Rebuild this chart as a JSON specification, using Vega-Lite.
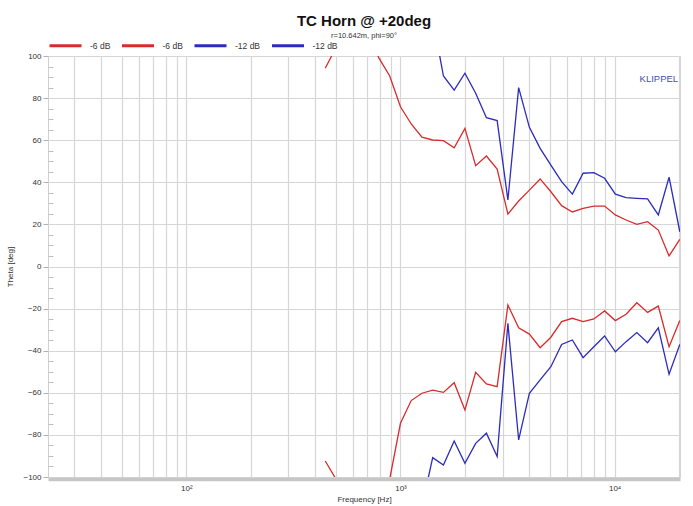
{
  "$schema": "https://vega.github.io/schema/vega-lite/v6.json",
  "width": 632,
  "height": 421,
  "autosize": {"type": "none"},
  "padding": {"left": 48, "top": 56, "right": 13, "bottom": 29},
  "background": "white",
  "config": {
    "font": "Liberation Sans",
    "view": {"stroke": "#d4d4d4"}
  },
  "title": {
    "text": "TC Horn @ +20deg",
    "subtitle": "r=10.642m, phi=90°",
    "anchor": "middle",
    "frame": "group",
    "fontSize": 15,
    "fontWeight": "bold",
    "color": "#111111",
    "subtitleFontSize": 7.5,
    "subtitleColor": "#333333",
    "subtitlePadding": 3,
    "offset": -11
  },
  "datasets": {
    "curves": [
      {"f": 445.4, "s": "u6", "t": 94.2},
      {"f": 500.0, "s": "u6", "t": 104},
      {"f": 561.2, "s": "u6", "t": 118},
      {"f": 630.0, "s": "u6", "t": 118},
      {"f": 707.1, "s": "u6", "t": 110},
      {"f": 793.7, "s": "u6", "t": 99},
      {"f": 890.9, "s": "u6", "t": 90.5},
      {"f": 1000, "s": "u6", "t": 75.9},
      {"f": 1122.5, "s": "u6", "t": 67.7},
      {"f": 1259.9, "s": "u6", "t": 61.4},
      {"f": 1414.2, "s": "u6", "t": 60.1},
      {"f": 1587.4, "s": "u6", "t": 59.8},
      {"f": 1781.8, "s": "u6", "t": 56.4},
      {"f": 2000, "s": "u6", "t": 65.6},
      {"f": 2244.9, "s": "u6", "t": 47.9},
      {"f": 2519.8, "s": "u6", "t": 52.5},
      {"f": 2828.4, "s": "u6", "t": 46.3},
      {"f": 3174.8, "s": "u6", "t": 24.9},
      {"f": 3563.6, "s": "u6", "t": 31.1},
      {"f": 4000, "s": "u6", "t": 36.3},
      {"f": 4489.8, "s": "u6", "t": 41.6},
      {"f": 5039.7, "s": "u6", "t": 35.5},
      {"f": 5656.9, "s": "u6", "t": 28.9},
      {"f": 6349.6, "s": "u6", "t": 25.9},
      {"f": 7127.2, "s": "u6", "t": 27.6},
      {"f": 8000, "s": "u6", "t": 28.7},
      {"f": 8979.7, "s": "u6", "t": 28.7},
      {"f": 10079.4, "s": "u6", "t": 24.5},
      {"f": 11313.7, "s": "u6", "t": 22.1},
      {"f": 12699.2, "s": "u6", "t": 20.0},
      {"f": 14254.4, "s": "u6", "t": 21.3},
      {"f": 16000, "s": "u6", "t": 17.3},
      {"f": 17959.4, "s": "u6", "t": 5.0},
      {"f": 20158.7, "s": "u6", "t": 12.9},

      {"f": 445.4, "s": "l6", "t": -92.4},
      {"f": 500.0, "s": "l6", "t": -101},
      {"f": 561.2, "s": "l6", "t": -115},
      {"f": 630.0, "s": "l6", "t": -120},
      {"f": 707.1, "s": "l6", "t": -118},
      {"f": 793.7, "s": "l6", "t": -110},
      {"f": 890.9, "s": "l6", "t": -101},
      {"f": 1000, "s": "l6", "t": -74.5},
      {"f": 1122.5, "s": "l6", "t": -63.7},
      {"f": 1259.9, "s": "l6", "t": -60.2},
      {"f": 1414.2, "s": "l6", "t": -58.7},
      {"f": 1587.4, "s": "l6", "t": -59.8},
      {"f": 1781.8, "s": "l6", "t": -55.2},
      {"f": 2000, "s": "l6", "t": -68.2},
      {"f": 2244.9, "s": "l6", "t": -50.3},
      {"f": 2519.8, "s": "l6", "t": -55.8},
      {"f": 2828.4, "s": "l6", "t": -57.1},
      {"f": 3174.8, "s": "l6", "t": -18.3},
      {"f": 3563.6, "s": "l6", "t": -29.1},
      {"f": 4000, "s": "l6", "t": -32.1},
      {"f": 4489.8, "s": "l6", "t": -38.6},
      {"f": 5039.7, "s": "l6", "t": -33.6},
      {"f": 5656.9, "s": "l6", "t": -26.2},
      {"f": 6349.6, "s": "l6", "t": -24.6},
      {"f": 7127.2, "s": "l6", "t": -26.2},
      {"f": 8000, "s": "l6", "t": -24.9},
      {"f": 8979.7, "s": "l6", "t": -21.1},
      {"f": 10079.4, "s": "l6", "t": -25.7},
      {"f": 11313.7, "s": "l6", "t": -22.7},
      {"f": 12699.2, "s": "l6", "t": -17.2},
      {"f": 14254.4, "s": "l6", "t": -21.8},
      {"f": 16000, "s": "l6", "t": -18.8},
      {"f": 17959.4, "s": "l6", "t": -38.1},
      {"f": 20158.7, "s": "l6", "t": -25.7},

      {"f": 1414.2, "s": "u12", "t": 118},
      {"f": 1587.4, "s": "u12", "t": 90.5},
      {"f": 1781.8, "s": "u12", "t": 83.8},
      {"f": 2000, "s": "u12", "t": 91.8},
      {"f": 2244.9, "s": "u12", "t": 82.3},
      {"f": 2519.8, "s": "u12", "t": 70.7},
      {"f": 2828.4, "s": "u12", "t": 69.3},
      {"f": 3174.8, "s": "u12", "t": 31.6},
      {"f": 3563.6, "s": "u12", "t": 85.0},
      {"f": 4000, "s": "u12", "t": 66.1},
      {"f": 4489.8, "s": "u12", "t": 56.1},
      {"f": 5039.7, "s": "u12", "t": 48.2},
      {"f": 5656.9, "s": "u12", "t": 40.3},
      {"f": 6349.6, "s": "u12", "t": 34.4},
      {"f": 7127.2, "s": "u12", "t": 44.3},
      {"f": 8000, "s": "u12", "t": 44.6},
      {"f": 8979.7, "s": "u12", "t": 41.9},
      {"f": 10079.4, "s": "u12", "t": 34.4},
      {"f": 11313.7, "s": "u12", "t": 32.7},
      {"f": 12699.2, "s": "u12", "t": 32.4},
      {"f": 14254.4, "s": "u12", "t": 32.1},
      {"f": 16000, "s": "u12", "t": 24.5},
      {"f": 17959.4, "s": "u12", "t": 42.4},
      {"f": 20158.7, "s": "u12", "t": 16.5},

      {"f": 1259.9, "s": "l12", "t": -114},
      {"f": 1414.2, "s": "l12", "t": -90.8},
      {"f": 1587.4, "s": "l12", "t": -94.3},
      {"f": 1781.8, "s": "l12", "t": -82.9},
      {"f": 2000, "s": "l12", "t": -93.5},
      {"f": 2244.9, "s": "l12", "t": -84.0},
      {"f": 2519.8, "s": "l12", "t": -79.2},
      {"f": 2828.4, "s": "l12", "t": -90.3},
      {"f": 3174.8, "s": "l12", "t": -27.0},
      {"f": 3563.6, "s": "l12", "t": -82.4},
      {"f": 4000, "s": "l12", "t": -60.2},
      {"f": 4489.8, "s": "l12", "t": -53.9},
      {"f": 5039.7, "s": "l12", "t": -47.6},
      {"f": 5656.9, "s": "l12", "t": -37.0},
      {"f": 6349.6, "s": "l12", "t": -34.9},
      {"f": 7127.2, "s": "l12", "t": -43.3},
      {"f": 8000, "s": "l12", "t": -38.1},
      {"f": 8979.7, "s": "l12", "t": -33.0},
      {"f": 10079.4, "s": "l12", "t": -40.5},
      {"f": 11313.7, "s": "l12", "t": -35.7},
      {"f": 12699.2, "s": "l12", "t": -31.4},
      {"f": 14254.4, "s": "l12", "t": -36.2},
      {"f": 16000, "s": "l12", "t": -29.1},
      {"f": 17959.4, "s": "l12", "t": -51.2},
      {"f": 20158.7, "s": "l12", "t": -37.0}
    ],
    "note": [{"label": "KLIPPEL"}]
  },
  "resolve": {"axis": {"y": "independent"}},
  "layer": [
    {
      "data": {"name": "curves"},
      "mark": {"type": "line", "clip": true, "strokeWidth": 1.3},
      "encoding": {
        "x": {
          "field": "f",
          "type": "quantitative",
          "scale": {"type": "log", "domain": [22.6, 20200], "nice": false},
          "axis": {
            "title": "Frequency [Hz]",
            "values": [30, 40, 50, 60, 70, 80, 90, 100, 200, 300, 400, 500, 600, 700, 800, 900, 1000, 2000, 3000, 4000, 5000, 6000, 7000, 8000, 9000, 10000, 20000],
            "labelExpr": "datum.value == 100 ? '10²' : datum.value == 1000 ? '10³' : datum.value == 10000 ? '10⁴' : ''",
            "labelOverlap": false,
            "labelFlush": false,
            "ticks": false,
            "grid": true,
            "gridColor": "#d6d6d6",
            "gridWidth": 1.2,
            "domainColor": "#c6c6c6",
            "domainWidth": 3.5,
            "offset": 2,
            "labelFontSize": 8,
            "labelColor": "#333333",
            "labelPadding": 5,
            "titleFontSize": 8,
            "titleFontWeight": "normal",
            "titleColor": "#333333",
            "titlePadding": 3
          }
        },
        "y": {
          "field": "t",
          "type": "quantitative",
          "scale": {"domain": [-100, 100], "nice": false, "zero": false},
          "axis": {
            "title": "Theta [deg]",
            "orient": "left",
            "values": [-100, -80, -60, -40, -20, 0, 20, 40, 60, 80, 100],
            "grid": true,
            "gridColor": "#d6d6d6",
            "gridWidth": 1.2,
            "tickSize": 5,
            "tickColor": "#b0b0b0",
            "domainColor": "#d0d0d0",
            "labelFontSize": 8,
            "labelColor": "#333333",
            "labelPadding": 2,
            "titleFontSize": 8,
            "titleFontWeight": "normal",
            "titleColor": "#333333",
            "titlePadding": 8
          }
        },
        "color": {
          "field": "s",
          "type": "nominal",
          "scale": {"domain": ["u6", "l6", "u12", "l12"], "range": ["#d92b2b", "#d92b2b", "#2b2bbf", "#2b2bbf"]},
          "legend": {
            "orient": "top",
            "offset": 4,
            "direction": "horizontal",
            "title": null,
            "symbolType": "stroke",
            "symbolSize": 1024,
            "symbolStrokeWidth": 3,
            "labelExpr": "(datum.value == 'u6' || datum.value == 'l6') ? '-6 dB' : '-12 dB'",
            "labelFontSize": 8.5,
            "labelColor": "#333333",
            "labelOffset": 7,
            "columnPadding": 4.5
          }
        }
      }
    },
    {
      "data": {"name": "note"},
      "mark": {"type": "text", "align": "right", "baseline": "middle", "fontSize": 9.5, "color": "#3f4fb0"},
      "encoding": {
        "x": {"datum": 19800, "type": "quantitative"},
        "y": {
          "datum": 89,
          "type": "quantitative",
          "axis": {
            "orient": "left",
            "title": null,
            "values": [-95, -90, -85, -75, -70, -65, -55, -50, -45, -35, -30, -25, -15, -10, -5, 5, 10, 15, 25, 30, 35, 45, 50, 55, 65, 70, 75, 85, 90, 95],
            "labels": false,
            "grid": false,
            "domain": false,
            "tickSize": -5,
            "tickColor": "#c0c0c0"
          }
        },
        "text": {"field": "label"}
      }
    }
  ]
}
